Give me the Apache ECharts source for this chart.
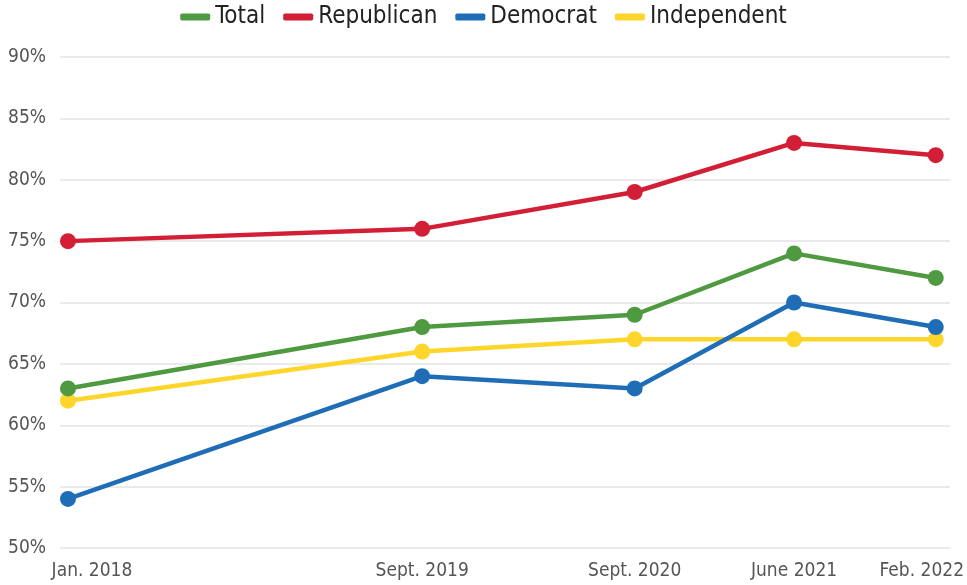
<!DOCTYPE html>
<html>
<head>
<meta charset="utf-8">
<script src="https://cdn.jsdelivr.net/npm/echarts@6/dist/echarts.min.js"></script>
<style>
  html, body { margin: 0; padding: 0; background: #fff; }
  #chart { width: 967px; height: 585px; }
</style>
</head>
<body>
<div id="chart"></div>
<script>
    // months since Jan. 2018, so the spacing follows real time
    var surveyMonths = [0, 20, 32, 41, 49];
    var surveyLabels = ['Jan. 2018', 'Sept. 2019', 'Sept. 2020', 'June 2021', 'Feb. 2022'];

    var totalValues = [63, 68, 69, 74, 72];
    var republicanValues = [75, 76, 79, 83, 82];
    var democratValues = [54, 64, 63, 70, 68];
    var independentValues = [62, 66, 67, 67, 67];

    var yTicks = [50, 55, 60, 65, 70, 75, 80, 85, 90];

    var FONT = '"Liberation Sans Narrow", "DejaVu Sans Condensed", Roboto, sans-serif';

    function pairs(values) {
        var out = [];
        for (var i = 0; i < values.length; i++) {
            out.push([surveyMonths[i], values[i]]);
        }
        return out;
    }

    function makeSeries(name, values, color) {
        return {
            name: name,
            type: 'line',
            data: pairs(values),
            symbol: 'circle',
            symbolSize: 16,
            lineStyle: { width: 4.5, color: color },
            itemStyle: { color: color },
            emphasis: { disabled: true }
        };
    }

    var chart = echarts.init(document.getElementById('chart'), null, { renderer: 'canvas' });

    chart.setOption({
        animation: false,
        backgroundColor: '#fff',
        legend: {
            top: 0,
            left: 'center',
            itemWidth: 30,
            itemHeight: 7,
            itemGap: 18,
            icon: 'roundRect',
            textStyle: { fontFamily: FONT, fontSize: 24, color: '#222' },
            data: ['Total', 'Republican', 'Democrat', 'Independent']
        },
        grid: { left: 60, right: 17, top: 57, bottom: 37 },
        xAxis: {
            type: 'value',
            min: -0.45,
            max: 49.8,
            axisLine: { show: false },
            axisTick: { show: false },
            splitLine: { show: false },
            axisLabel: {
                customValues: surveyMonths,
                margin: 14,
                fontFamily: FONT,
                fontSize: 19,
                color: '#555',
                formatter: function (v) {
                    var i = surveyMonths.indexOf(v);
                    if (i === 0) return '{first|' + surveyLabels[i] + '}';
                    if (i === surveyLabels.length - 1) return '{last|' + surveyLabels[i] + '}';
                    return surveyLabels[i];
                },
                rich: {
                    first: { fontFamily: FONT, fontSize: 19, color: '#555', padding: [0, 0, 0, 48] },
                    last: { fontFamily: FONT, fontSize: 19, color: '#555', padding: [0, 28, 0, 0] }
                }
            }
        },
        yAxis: {
            type: 'value',
            min: yTicks[0],
            max: yTicks[yTicks.length - 1],
            interval: 5,
            axisLine: { show: false },
            axisTick: { show: false },
            splitLine: { lineStyle: { color: '#e3e3e3', width: 1.5 } },
            axisLabel: {
                margin: 14,
                fontFamily: FONT,
                fontSize: 19,
                color: '#555',
                formatter: '{value}%'
            }
        },
        series: [
            makeSeries('Independent', independentValues, '#fdd52b'),
            makeSeries('Democrat', democratValues, '#1f6db6'),
            makeSeries('Total', totalValues, '#4f9a41'),
            makeSeries('Republican', republicanValues, '#d21f35')
        ]
    });
</script>
</body>
</html>
